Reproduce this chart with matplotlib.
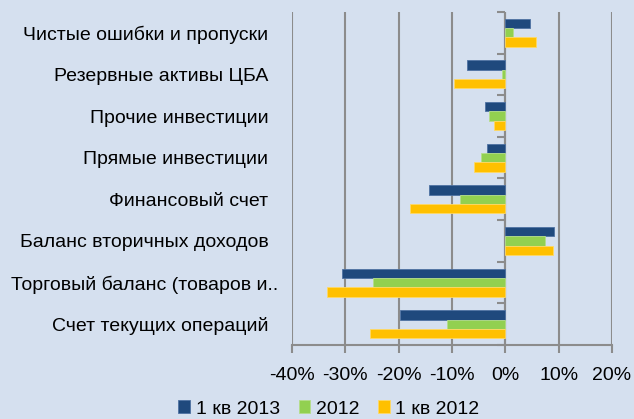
import matplotlib
matplotlib.use("Agg")
import matplotlib.pyplot as plt
import matplotlib.transforms as mtransforms
from matplotlib.markers import TICKLEFT
import numpy as np
from matplotlib.ticker import FuncFormatter, FixedLocator

plt.rcParams['font.family'] = ['Liberation Sans', 'DejaVu Sans']
plt.rcParams['axes.unicode_minus'] = False

categories = [
    "Счет текущих операций",
    "Торговый баланс (товаров и..",
    "Баланс вторичных доходов",
    "Финансовый счет",
    "Прямые инвестиции",
    "Прочие инвестиции",
    "Резервные активы ЦБА",
    "Чистые ошибки и пропуски",
]
series_names = ["1 кв 2013", "2012", "1 кв 2012"]
q1_2013 = [-19.7, -30.7, 9.1, -14.4, -3.4, -3.9, -7.2, 4.7]
y2012 = [-11.0, -24.9, 7.4, -8.5, -4.6, -3.1, -0.6, 1.4]
q1_2012 = [-25.4, -33.5, 8.9, -17.9, -5.9, -2.1, -9.7, 5.8]
xticks = [-40, -30, -20, -10, 0, 10, 20]
colors = ["#1f497d", "#92d050", "#ffc000"]
edge_colors = ["#4f72a3", "#b5de8a", "#ffd966"]
bg = "#d5e0ef"
grid_c = "#8c8c8c"

fig = plt.figure(figsize=(6.34, 4.19), dpi=100, facecolor=bg)
ax = fig.add_axes([292/634, 1-345/419, (612-292)/634, (345-12)/419])
ax.set_facecolor(bg)

y = np.arange(len(categories))
h = 0.225
for i, (vals, c, ec, name) in enumerate(zip([q1_2013, y2012, q1_2012], colors, edge_colors, series_names)):
    ax.barh(y + (1 - i) * h, vals, height=h, color=c, edgecolor=ec, linewidth=0.6, label=name, zorder=3)

ax.set_xlim(-40, 20)
ax.set_ylim(-0.5, len(categories) - 0.5)
ax.xaxis.set_major_locator(FixedLocator(xticks))
ax.xaxis.set_major_formatter(FuncFormatter(lambda v, p: f"{v:.0f}%"))
ax.grid(axis='x', color=grid_c, linewidth=1.5, zorder=0)
ax.set_yticks(y)
ax.set_yticklabels(categories)
ax.tick_params(axis='y', length=0, pad=17, labelsize=14, colors='black')
ax.tick_params(axis='x', length=6, width=1.5, color=grid_c, pad=10, labelsize=14, labelcolor='black')
for s in ['top', 'right', 'left']:
    ax.spines[s].set_visible(False)
ax.spines['bottom'].set_color(grid_c)
ax.spines['bottom'].set_linewidth(1.5)

# truncated label sticks out a bit to the right in the reference
tl = ax.get_yticklabels()[1]
tl.set_transform(tl.get_transform() + mtransforms.ScaledTranslation(10/100, 0, fig.dpi_scale_trans))

# category axis at zero, with boundary tick marks pointing left
bounds = np.arange(len(categories) + 1) - 0.5
ax.axvline(0, color=grid_c, linewidth=1.5, zorder=2)
ax.plot(np.zeros_like(bounds), bounds, linestyle='none', marker=TICKLEFT, markersize=6,
        markeredgewidth=1.5, color=grid_c, clip_on=False, zorder=2)

handles, labels = ax.get_legend_handles_labels()
leg = fig.legend(handles, labels, loc='center', bbox_to_anchor=(329/634, 1-409/419), ncol=3,
                 frameon=False, fontsize=14, handlelength=0.6, handleheight=0.6,
                 handletextpad=0.3, columnspacing=0.95, borderaxespad=0)

fig.savefig("out.png", dpi=100, facecolor=bg)
